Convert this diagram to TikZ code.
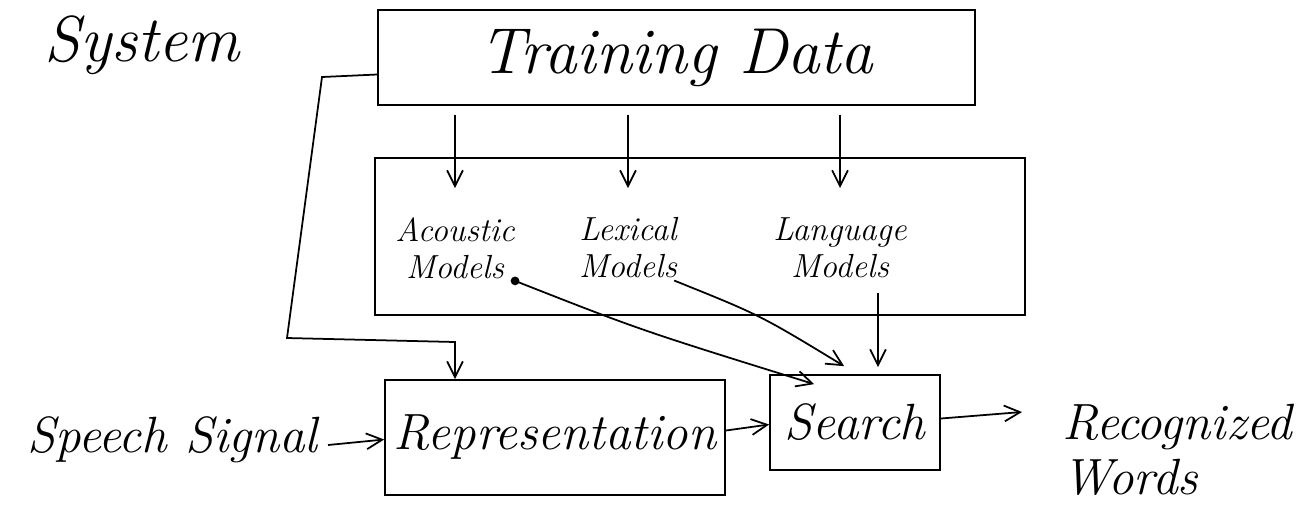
\documentclass[tikz,border=0pt]{standalone}
\usetikzlibrary{arrows.meta}
\begin{document}
\begin{tikzpicture}[x=0.02cm,y=-0.02cm,
  box/.style={draw, line width=1pt, minimum width=#1},
  lbl/.style={font=\fontsize{29}{31}\selectfont\itshape, inner sep=0pt},
  mlbl/.style={font=\fontsize{19}{21}\selectfont\itshape, inner sep=0pt, align=center},
  arr/.style={line width=1pt, -{Straight Barb[length=9pt,width=9pt]}},
  ln/.style={line width=1pt}]
\useasboundingbox (0,0) rectangle (1297,522);
\node[lbl, font=\fontsize{37}{39}\selectfont\itshape] (sys) at (142,45) {System};
\node[box=597*0.02cm, minimum height=95*0.02cm, lbl, font=\fontsize{37}{39}\selectfont\itshape] (td) at (676.5,57.5) {Training Data};
\node[box=650*0.02cm, minimum height=157*0.02cm] (mb) at (700,236.5) {};
\node[mlbl] (ac) at (455,248) {Acoustic\\Models};
\node[mlbl] (lx) at (628,248) {Lexical\\Models};
\node[mlbl] (lg) at (840,248) {Language\\Models};
\node[box=340*0.02cm, minimum height=115*0.02cm, lbl] (rep) at (555,437.5) {Representation};
\node[box=170*0.02cm, minimum height=95*0.02cm, lbl] (srch) at (855,422.5) {Search};
\node[lbl, anchor=east] (ss) at (318,440) {Speech Signal};
\node[lbl, anchor=west, align=left] (rw) at (1062,450) {Recognized\\Words};
% training data to models
\draw[arr, shorten <=5pt, shorten >=1.2cm] (td.south -| ac) -- (ac.center);
\draw[arr, shorten <=5pt, shorten >=1.2cm] (td.south -| lx) -- (lx.center);
\draw[arr, shorten <=5pt, shorten >=1.2cm] (td.south -| lg) -- (lg.center);
% feedback loop
\coordinate (f1) at (322,77);
\coordinate (f2) at (287,338);
\coordinate (f3) at (455,342);
\draw[arr] ([shift={(0,17)}]td.west) -- (f1) -- (f2) -- (f3) -- (rep.north -| f3);
% models to search
\fill ([shift={(0,2)}]ac.south east) circle (2.5pt);
\draw[arr] ([shift={(0,2)}]ac.south east) .. controls (640,330) .. ([shift={(45,10)}]srch.north west);
\draw[arr] ([shift={(-3,2)}]lx.south east) .. controls (760,315) .. ([shift={(75,-8)}]srch.north west);
\draw[arr] ([shift={(38,15)}]lg.south) -- ([shift={(23,-7)}]srch.north);
% main chain
\draw[arr] ([shift={(10,5)}]ss.east) -- ([shift={(0,2)}]rep.west);
\draw[arr] ([shift={(0,-7)}]rep.east) -- ([shift={(0,2)}]srch.west);
\draw[arr] ([shift={(0,-4)}]srch.east) -- (1022,412);
\end{tikzpicture}
\end{document}
